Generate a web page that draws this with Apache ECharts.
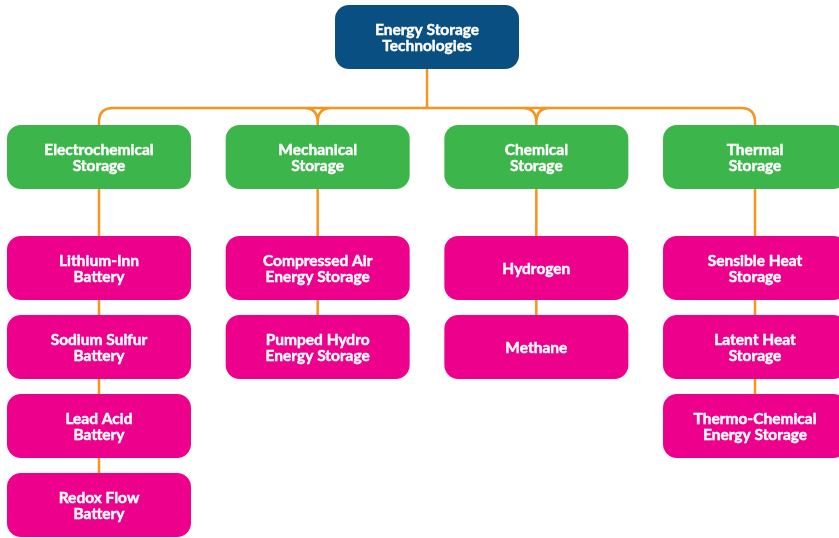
<!DOCTYPE html>
<html><head><meta charset="utf-8">
<script src="https://cdn.jsdelivr.net/npm/echarts@6/dist/echarts.min.js"></script>
<style>html,body{margin:0;padding:0;background:#fff}#chart{width:839px;height:538px}</style>
</head><body><div id="chart"></div>
<script>
// ---- data ----
const rootLabel = 'Energy Storage\nTechnologies';
const categories = ['Electrochemical\nStorage', 'Mechanical\nStorage', 'Chemical\nStorage', 'Thermal\nStorage'];
const electrochemicalItems = ['Lithium-Inn\nBattery', 'Sodium Sulfur\nBattery', 'Lead Acid\nBattery', 'Redox Flow\nBattery'];
const mechanicalItems = ['Compressed Air\nEnergy Storage', 'Pumped Hydro\nEnergy Storage'];
const chemicalItems = ['Hydrogen', 'Methane'];
const thermalItems = ['Sensible Heat\nStorage', 'Latent Heat\nStorage', 'Thermo-Chemical\nEnergy Storage'];
const itemsByCategory = [electrochemicalItems, mechanicalItems, chemicalItems, thermalItems];

// ---- layout / style ----
const TIER_Y = [0, 120, 231, 310, 389, 468];
const ROOT_COL = (categories.length - 1) / 2;
const BOX_W = 184, BOX_H = 64, BOX_R = 14;
const FILLS = ['#0a4f81', '#3cb54a', '#ec008c'];
const LINE = '#f7941d', LINE_W = 2.5, CORNER = 14, BUS_GAP = 39;
const FONT = 'bold 15.5px Lato';

const nodes = [{ value: [ROOT_COL, TIER_Y[0], 0], name: rootLabel }];
categories.forEach((c, i) => {
  nodes.push({ value: [i, TIER_Y[1], 1], name: c });
  itemsByCategory[i].forEach((t, j) => nodes.push({ value: [i, TIER_Y[2 + j], 2], name: t }));
});

function renderNode(params, api) {
  const p = api.coord([api.value(0), api.value(1)]);
  const kind = api.value(2);
  return {
    type: 'group',
    children: [
      { type: 'rect', shape: { x: p[0] - BOX_W / 2, y: p[1] - BOX_H / 2, width: BOX_W, height: BOX_H, r: BOX_R },
        style: { fill: FILLS[kind] } },
      { type: 'text', style: { text: nodes[params.dataIndex].name, x: p[0], y: p[1] + 0.5, align: 'center',
        verticalAlign: 'middle', fill: '#fff', stroke: '#fff', lineWidth: 0.45, font: FONT, lineHeight: 16 } }
    ]
  };
}

function renderEdges(params, api) {
  const root = api.coord([ROOT_COL, TIER_Y[0]]);
  const busY = root[1] + BOX_H / 2 + BUS_GAP;
  const first = api.coord([0, TIER_Y[1]]);
  const last = api.coord([categories.length - 1, TIER_Y[1]]);
  let d = `M${root[0]},${root[1]} L${root[0]},${busY} `;
  d += `M${first[0] + CORNER},${busY} L${last[0] - CORNER},${busY} `;
  categories.forEach((c, i) => {
    const p = api.coord([i, TIER_Y[1]]);
    const x = p[0];
    if (i > 0) d += `M${x - CORNER},${busY} Q${x},${busY} ${x},${busY + CORNER} L${x},${p[1]} `;
    if (i < categories.length - 1) d += `M${x + CORNER},${busY} Q${x},${busY} ${x},${busY + CORNER} L${x},${p[1]} `;
    const items = itemsByCategory[i];
    if (items.length) {
      const e = api.coord([i, TIER_Y[1 + items.length]]);
      d += `M${x},${p[1]} L${x},${e[1]} `;
    }
  });
  return { type: 'path', shape: { pathData: d }, style: { fill: 'none', stroke: LINE, lineWidth: LINE_W } };
}

const chart = echarts.init(document.getElementById('chart'), null, { renderer: 'canvas' });
chart.setOption({
  animation: false,
  backgroundColor: '#fff',
  grid: { left: 0, right: 0, top: 0, bottom: 0 },
  xAxis: { type: 'value', min: -0.4527, max: 3.384, show: false },
  yAxis: { type: 'value', inverse: true, min: -37, max: 501, show: false },
  series: [
    { type: 'custom', renderItem: renderEdges, data: [[0, 0]], z: 1, silent: true },
    { type: 'custom', renderItem: renderNode, data: nodes, z: 2, silent: true,
      encode: { x: 0, y: 1 } }
  ]
});
</script></body></html>
